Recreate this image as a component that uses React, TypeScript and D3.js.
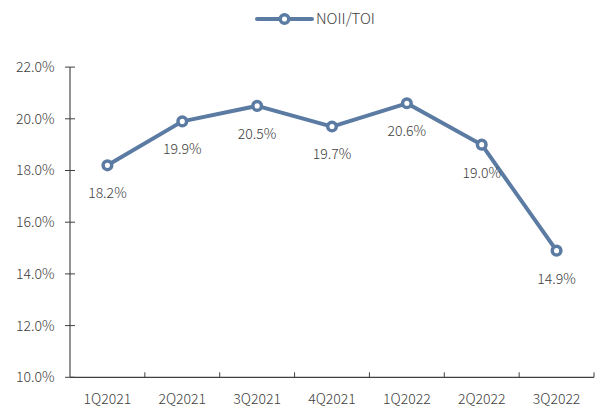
import React from 'react';
import * as d3 from 'd3';

const categories = ['1Q2021', '2Q2021', '3Q2021', '4Q2021', '1Q2022', '2Q2022', '3Q2022'];
const noiiToi = [18.2, 19.9, 20.5, 19.7, 20.6, 19.0, 14.9];
const yTicks = [10, 12, 14, 16, 18, 20, 22];
const seriesName = 'NOII/TOI';

const W = 595;
const H = 408;
const color = '#5b7ba3';
const textColor = '#404040';
const font = '"Noto Sans CJK SC", "Noto Sans", sans-serif';

const App = () => {
  const x = d3.scaleBand<string>().domain(categories).range([70, 594]);
  const y = d3.scaleLinear().domain([10, 22]).range([377.3, 67.1]);

  const cx = (i: number) => (x(categories[i]) as number) + x.bandwidth() / 2;

  const line = d3
    .line<number>()
    .x((d, i) => cx(i))
    .y(d => y(d));

  return (
    <svg
      width={W}
      height={H}
      style={{ position: 'fixed', left: 0, top: 0, display: 'block', background: '#fff' }}
      fontWeight={300}
    >
      {/* 图例 */}
      <g>
        <line x1={257} x2={312} y1={19} y2={19} stroke={color} strokeWidth={4} strokeLinecap="round" />
        <circle cx={284.5} cy={19} r={4.3} fill="#fff" stroke={color} strokeWidth={3.5} />
        <text x={316} y={19} dy="0.35em" fontSize={15} fill={textColor} fontFamily={font}>
          {seriesName}
        </text>
      </g>

      {/* y 轴 */}
      <line x1={70} x2={70} y1={y(22)} y2={y(10)} stroke="#595959" strokeWidth={1.3} />
      {yTicks.map(t => (
        <g key={t} transform={`translate(0, ${y(t)})`}>
          <line x1={65} x2={75} stroke="#404040" strokeWidth={1} />
          <text x={54.5} dy="0.35em" textAnchor="end" fontSize={14} fill={textColor} fontFamily={font}>
            {t.toFixed(1)}%
          </text>
        </g>
      ))}

      {/* x 轴 */}
      <line x1={70} x2={594} y1={y(10)} y2={y(10)} stroke="#404040" strokeWidth={1.3} />
      {categories.map((c, i) => (
        <g key={c}>
          <line
            x1={(x(c) as number) + x.bandwidth()}
            x2={(x(c) as number) + x.bandwidth()}
            y1={y(10)}
            y2={y(10) - 5}
            stroke="#404040"
            strokeWidth={1}
          />
          <text x={cx(i)} y={399} dy="0.35em" textAnchor="middle" fontSize={14} fill={textColor} fontFamily={font}>
            {c}
          </text>
        </g>
      ))}

      {/* 折线 */}
      <path d={line(noiiToi) || ''} fill="none" stroke={color} strokeWidth={4} strokeLinejoin="round" />
      {noiiToi.map((v, i) => (
        <g key={i}>
          <circle cx={cx(i)} cy={y(v)} r={4.3} fill="#fff" stroke={color} strokeWidth={3.5} />
          <text x={cx(i)} y={y(v) + 28} dy="0.35em" textAnchor="middle" fontSize={14} fill={textColor} fontFamily={font}>
            {v.toFixed(1)}%
          </text>
        </g>
      ))}
    </svg>
  );
};

export default App;
